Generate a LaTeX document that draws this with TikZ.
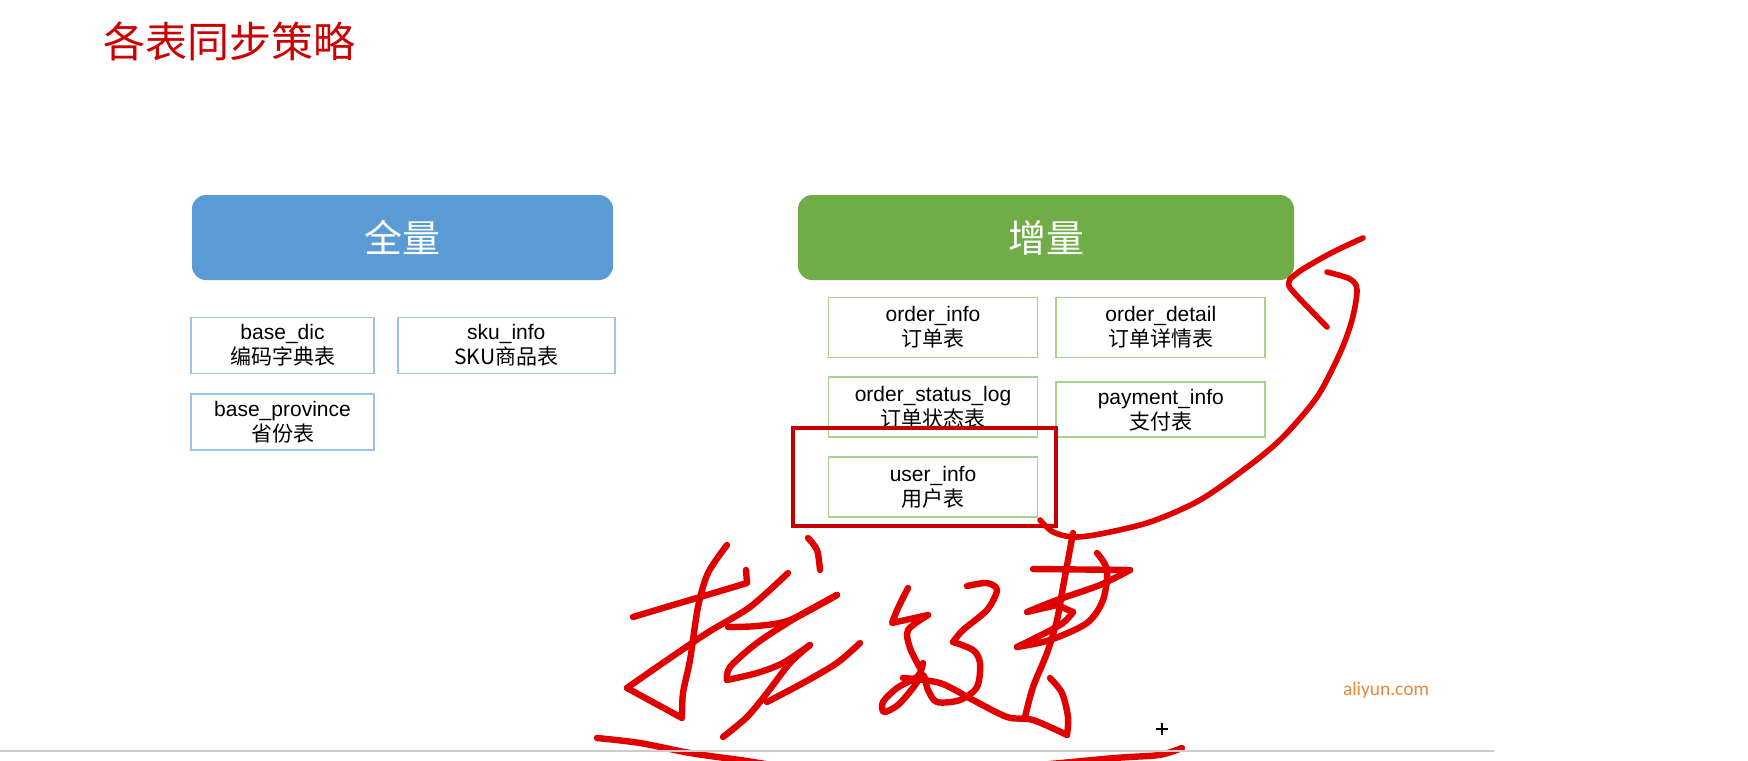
\documentclass[tikz,border=0pt]{standalone}
\usepackage{fontspec}
\setmainfont{Liberation Sans}
\newfontfamily\cjk{Noto Sans CJK SC}
\newfontfamily\carlito{Carlito}
\usetikzlibrary{positioning}

\definecolor{titlered}{RGB}{204,0,0}
\definecolor{fullblue}{RGB}{91,155,213}
\definecolor{incgreen}{RGB}{112,173,71}
\definecolor{fullline}{RGB}{157,195,230}
\definecolor{incline}{RGB}{169,209,142}
\definecolor{penred}{RGB}{225,0,0}
\definecolor{boxred}{RGB}{196,0,0}
\definecolor{siteorange}{RGB}{232,136,58}

\begin{document}
\begin{tikzpicture}[x=0.5pt,y=-0.5pt,
    hdr/.style={rounded corners=7pt,minimum height=42.5pt,text=white,font=\cjk\fontsize{19}{20}\selectfont},
    tbl/.style={draw,line width=0.9pt,minimum height=28pt,align=center,inner sep=0pt,font=\fontsize{10.5}{12.5}\selectfont},
    fulltbl/.style={tbl,draw=fullline,minimum width=91.5pt},
    inctbl/.style={tbl,draw=incline,minimum width=104.5pt,minimum height=30pt},
    pen/.style={penred,line width=3.2pt,line cap=round,line join=round}]
        \fill[white] (0,0) rectangle (1748,760);
        \useasboundingbox (0,0) rectangle (1748,760);
        \node[anchor=west,inner sep=0pt,text=titlered,font=\cjk\fontsize{21}{24}\selectfont] (title) at (103,41) {各表同步策略};

        % full sync
        \node[hdr,fill=fullblue,minimum width=210.5pt] (full) at (402.5,237.5) {全量};
        \node[fulltbl] (basedic) at (282.5,345.5) {base\_dic\\{\cjk 编码字典表}};
        \node[fulltbl,minimum width=108.5pt,right=11pt of basedic] (skuinfo) {sku\_info\\{\cjk SKU商品表}};
        \node[fulltbl,below=9.5pt of basedic] (baseprov) {base\_province\\{\cjk 省份表}};

        % incremental sync
        \node[hdr,fill=incgreen,minimum width=248pt] (inc) at (1046,237.5) {增量};
        \node[inctbl] (orderinfo) at (933,327.5) {order\_info\\{\cjk 订单表}};
        \node[inctbl,right=8.5pt of orderinfo] (orderdetail) {order\_detail\\{\cjk 订单详情表}};
        \node[inctbl,below=9pt of orderinfo] (orderstatus) {order\_status\_log\\{\cjk 订单状态表}};
        \node[inctbl,minimum height=27.5pt,below=11.5pt of orderdetail] (payment) {payment\_info\\{\cjk 支付表}};
        \node[inctbl,below=9pt of orderstatus] (userinfo) {user\_info\\{\cjk 用户表}};

        % pen marks
        \node[draw=boxred,line width=2.2pt,minimum width=131.5pt,minimum height=49pt,inner sep=0pt] (mark) at (924.5,477) {};
        \draw[pen,line width=2.8pt] plot[smooth] coordinates {(1040,520) (1053,532) (1073,537) (1100,534) (1150,522) (1200,500) (1250,465) (1283,437) (1317,397) (1340,353) (1352,320) (1357,290) (1350,279) (1327,272)};
        \draw[pen,line width=2.8pt] plot[smooth] coordinates {(1363,238) (1333,252) (1303,269) (1290,279)};
        \draw[pen,line width=2.8pt] plot[smooth] coordinates {(1290,279) (1289,286) (1298,297) (1327,327)};

        % handwriting
        \draw[pen] plot[smooth] coordinates {(633,617) (673,605) (707,595) (747,583)} -- (746,570);
        \draw[pen] plot[smooth] coordinates {(727,545) (708,573) (698,607) (690,660) (683,693) (682,718)} -- (627,688);
        \draw[pen] plot[smooth] coordinates {(627,688) (657,667) (707,633) (750,607) (788,573)};
        \draw[pen] plot[smooth] coordinates {(808,538) (817,550) (820,570)};
        \draw[pen] plot[smooth] coordinates {(728,627) (757,626) (790,620) (837,595)};
        \draw[pen] plot[smooth] coordinates {(837,595) (797,617) (757,643) (730,667) (727,680)};
        \draw[pen] plot[smooth] coordinates {(727,680) (757,673) (783,663) (810,645)};
        \draw[pen] plot[smooth] coordinates {(810,645) (790,663) (767,693) (747,717) (723,737)};
        \draw[pen] plot[smooth] coordinates {(860,643) (837,663) (803,683) (767,702)};
        \draw[pen] plot[smooth] coordinates {(908,588) (898,608) (892,623)} -- (928,615);
        \draw[pen] plot[smooth] coordinates {(928,615) (908,630) (910,648) (920,668)};
        \draw[pen] plot[smooth] coordinates {(923,663) (918,676) (897,688) (883,702) (884,712) (898,705) (913,688) (923,675) (928,690) (937,702) (960,700) (977,687) (980,663) (973,650) (953,642)};
        \draw[pen] plot[smooth] coordinates {(953,642) (963,630) (987,610) (997,590) (987,583) (967,586)};
        \draw[pen] plot[smooth] coordinates {(903,678) (940,683) (973,700) (1007,717) (1033,720) (1067,735)};
        \draw[pen] plot[smooth] coordinates {(1067,735) (1068,717) (1062,693) (1050,678)};
        \draw[pen] plot[smooth] coordinates {(1073,533) (1068,560) (1063,587) (1057,620) (1047,653) (1033,687) (1025,717)};
        \draw[pen] (1033,569) -- (1130,570);
        \draw[pen] plot[smooth] coordinates {(1130,570) (1100,585) (1057,600) (1027,612)} -- (1057,605) -- (1073,612);
        \draw[pen] plot[smooth] coordinates {(1073,612) (1060,625) (1017,647)};
        \draw[pen] plot[smooth] coordinates {(1017,647) (1050,640) (1087,623) (1103,600) (1107,570) (1097,553)};
        \begin{scope}
            \clip (0,0) rectangle (1748,760);
            \draw[pen] plot[smooth] coordinates {(597,738) (640,743) (690,753) (740,760) (800,768) (900,770) (1000,768) (1115,758) (1159,755) (1182,748)};
        \end{scope}
        \draw[line width=0.8pt] (1156,729) -- (1168,729) (1162,723) -- (1162,735);

        \node[text=siteorange,font=\carlito\fontsize{9.7}{11}\selectfont] (site) at (1386,690) {aliyun.com};
        \draw[black!20,line width=1pt] (0,751) -- (1494,751);
    \end{tikzpicture}
\end{document}
